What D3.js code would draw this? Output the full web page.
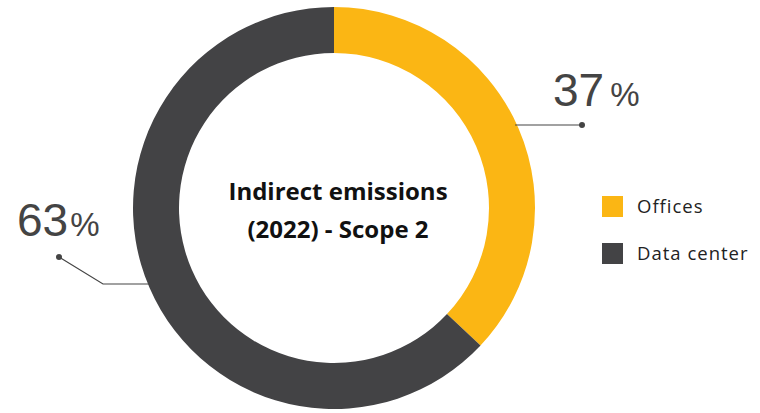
<!DOCTYPE html>
<html>
<head>
<meta charset="utf-8">
<script src="https://cdn.jsdelivr.net/npm/d3@7"></script>
<style>
	body { margin: 0; background: #fff; }
	svg { display: block; }
</style>
</head>
<body>
<svg class="chart" width="760" height="413"></svg>
<script>
const categories = ['Offices', 'Data center'];
const values = [37, 63];
const colors = ['#fbb614', '#434345'];
const titleLines = ['Indirect emissions', '(2022) - Scope 2'];

function startApp() {
	const cx = 334;
	const cy = 208;
	const outerRadius = 201;
	const innerRadius = 155;
	const svg = d3.select('.chart');

	const pie = d3.pie().sort(null).value(d => d.value);
	const arc = d3.arc().innerRadius(innerRadius).outerRadius(outerRadius);
	const slices = pie(categories.map((name, i) => ({name, value: values[i], color: colors[i]})));

	const donut = svg.append('g')
		.attr('transform', `translate(${cx}, ${cy})`);

	donut.selectAll('path')
		.data(slices)
		.enter()
			.append('path')
			.attr('d', arc)
			.attr('fill', d => d.data.color);

	donut.selectAll('text.title')
		.data(titleLines)
		.enter()
			.append('text')
			.classed('title', true)
			.attr('x', 4)
			.attr('y', (d, i) => -8 + i * 38)
			.attr('text-anchor', 'middle')
			.attr('font-family', 'Open Sans, sans-serif')
			.attr('font-weight', 'bold')
			.attr('font-size', 24)
			.attr('fill', '#111')
			.text(d => d);

	// leader lines + labels
	const labels = [
		{slice: slices[0], y: 125, dotX: 582, points: null, textX: 553, textY: 106, gap: 6},
		{slice: slices[1], y: 284, dotX: 59, points: [[103, 284], [59, 257]], textX: 17, textY: 236, gap: 2}
	];

	labels.forEach(l => {
		const dy = l.y - cy;
		const dx = Math.sqrt(outerRadius * outerRadius - dy * dy);
		const right = l.dotX > cx;
		const startX = right ? cx + dx - 2 : cx - dx + 2;
		const pts = [[startX, l.y]].concat(l.points || [[l.dotX, l.y]]);
		svg.append('path')
			.attr('d', d3.line()(pts))
			.attr('fill', 'none')
			.attr('stroke', '#444')
			.attr('stroke-width', 1.2);
		const last = pts[pts.length - 1];
		svg.append('circle')
			.attr('cx', last[0])
			.attr('cy', last[1])
			.attr('r', 3)
			.attr('fill', '#444');
		const t = svg.append('text')
			.attr('x', l.textX)
			.attr('y', l.textY)
			.attr('font-family', 'Liberation Sans, Arial, sans-serif')
			.attr('fill', '#444');
		t.append('tspan')
			.attr('font-size', 46)
			.text(Math.round(l.slice.data.value));
		t.append('tspan')
			.attr('font-size', 33)
			.attr('dx', l.gap)
			.text('%');
	});

	const legend = svg.append('g')
		.attr('transform', 'translate(602, 196)');
	const item = legend.selectAll('g')
		.data(categories)
		.enter()
			.append('g')
			.attr('transform', (d, i) => `translate(0, ${i * 47})`);
	item.append('rect')
		.attr('width', 21)
		.attr('height', 21)
		.attr('fill', (d, i) => colors[i]);
	item.append('text')
		.attr('x', 35)
		.attr('y', 17)
		.attr('font-family', 'Open Sans, sans-serif')
		.attr('font-size', 18.5)
		.attr('letter-spacing', 1)
		.attr('fill', '#222')
		.text(d => d);
}

window.onload = startApp;
</script>
</body>
</html>
